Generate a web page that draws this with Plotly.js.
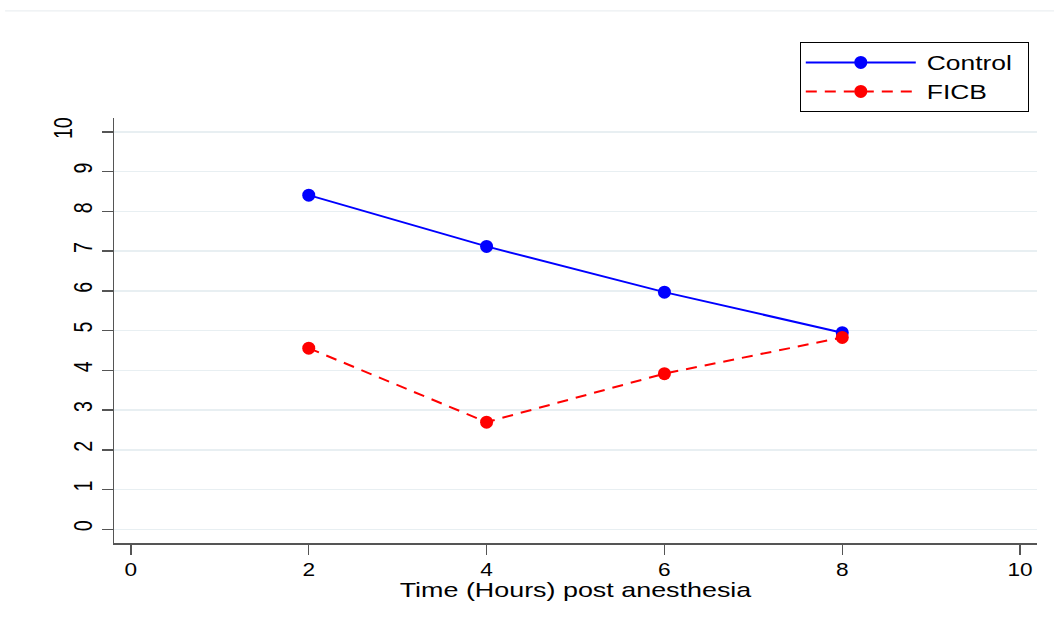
<!DOCTYPE html>
<html>
<head>
<meta charset="utf-8">
<script src="https://cdn.plot.ly/plotly-3.0.1.min.js"></script>
<style>html,body{margin:0;padding:0;background:#fff;}#chart{width:1054px;height:618px;}</style>
</head>
<body>
<div id="chart"></div>
<script>
const hours = [2, 4, 6, 8];
const controlScores = [8.41, 7.12, 5.97, 4.95];
const ficbScores = [4.56, 2.70, 3.92, 4.83];
const tickValues = [0, 2, 4, 6, 8, 10];
const yTickValues = [0, 1, 2, 3, 4, 5, 6, 7, 8, 9, 10];
const seriesNames = ["Control", "FICB"];

const FONT = "Liberation Sans, Arial, sans-serif";
const traces = [
  {x: hours, y: controlScores, name: seriesNames[0], type: "scatter", mode: "lines+markers", legendgroup: "a",
   line: {color: "#0000ff", width: 2}, marker: {color: "#0000ff", size: 13}},
  {x: hours, y: ficbScores, name: seriesNames[1], type: "scatter", mode: "lines+markers", legendgroup: "b",
   line: {color: "#ff0000", width: 2, dash: "11px,8px"}, marker: {color: "#ff0000", size: 13}}
];

const axisCommon = {
  showline: true, linecolor: "#555", linewidth: 1.5, ticks: "outside", ticklen: 10,
  tickcolor: "#555", tickwidth: 1.5, zeroline: false, mirror: false
};

const layout = {
  width: 1054, height: 618,
  margin: {l: 114, r: 17, t: 118, b: 75},
  paper_bgcolor: "#fff", plot_bgcolor: "#fff",
  font: {family: FONT, color: "#000"},
  xaxis: Object.assign({}, axisCommon, {
    range: [-0.19, 10.19], tickvals: tickValues, showgrid: false,
    tickfont: {family: FONT, size: 17.7, color: "#000"},
    title: {text: "Time (Hours) post anesthesia", font: {size: 21}, standoff: 0}
  }),
  yaxis: Object.assign({}, axisCommon, {
    range: [-0.34, 10.35], tickvals: yTickValues, tickangle: -90, ticklen: 11,
    tickfont: {family: FONT, size: 25, color: "#000"},
    showgrid: true, gridcolor: "#e8eff2", gridwidth: 1.5
  }),
  legend: {
    x: 0.743, y: 1.179, xanchor: "left", yanchor: "top",
    bordercolor: "#000", borderwidth: 1, bgcolor: "#fff",
    font: {size: 20, color: "#000"}, itemwidth: 110, tracegroupgap: 0, traceorder: "grouped"
  },
  shapes: [{type: "line", xref: "paper", yref: "paper", x0: -0.118, x1: 1.02, y0: 1.252, y1: 1.252,
            line: {color: "#e6ebee", width: 1}}],
  showlegend: true
};

function adjustText(sel, factor) {
  document.querySelectorAll(sel).forEach(function (t) {
    const L = t.getComputedTextLength();
    t.setAttribute("lengthAdjust", "spacingAndGlyphs");
    t.setAttribute("textLength", (L * factor).toFixed(2));
  });
}

Plotly.newPlot("chart", traces, layout, {displayModeBar: false, staticPlot: true}).then(function () {
  adjustText(".xtick text", 1.28);
  adjustText(".g-xtitle text", 1.28);
  adjustText(".legendtext", 1.32);
  adjustText(".ytick text", 0.785);
  const yt = document.querySelectorAll(".ytick text");
  const last = yt[yt.length - 1];
  if (last) last.setAttribute("transform", "translate(-20,0) " + (last.getAttribute("transform") || ""));
  document.querySelectorAll(".legendtext").forEach(function (t) {
    const x = parseFloat(t.getAttribute("x") || "0");
    t.setAttribute("x", (x + 6).toString());
  });
  const bg = document.querySelector(".legend rect.bg");
  if (bg) bg.setAttribute("width", "228");
  document.querySelectorAll("clipPath[id^='legend'] rect").forEach(function (r) {
    r.setAttribute("width", "228");
  });
  const xt = document.querySelector(".g-xtitle text");
  if (xt) xt.setAttribute("transform", "translate(0,-2) " + (xt.getAttribute("transform") || ""));
});
</script>
</body>
</html>
